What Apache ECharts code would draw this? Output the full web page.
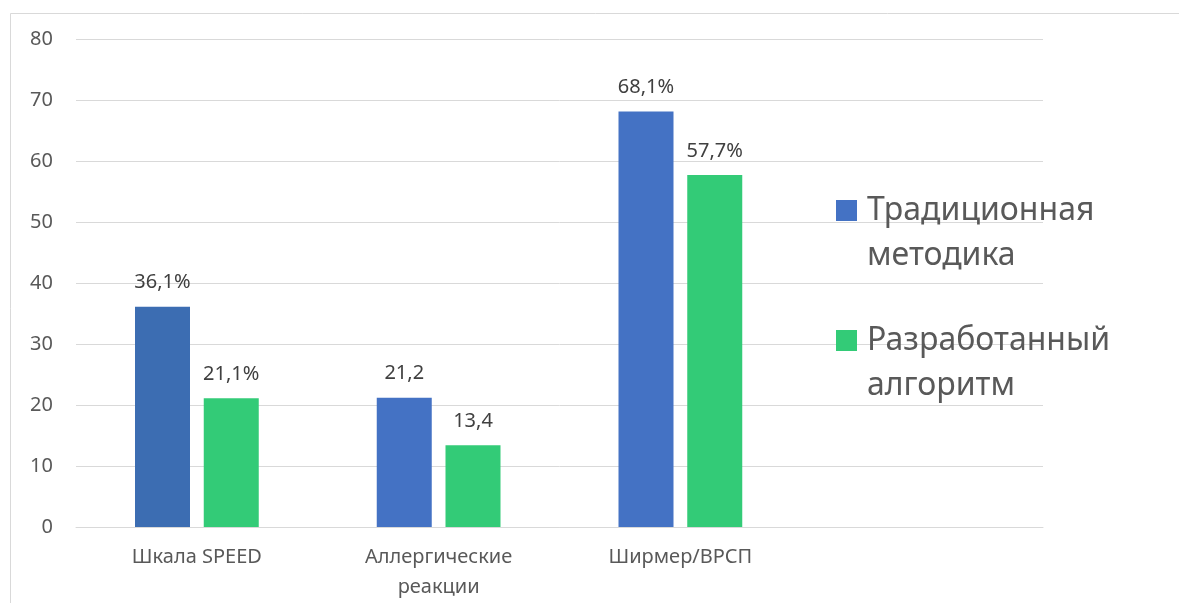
<!DOCTYPE html>
<html>
<head>
<meta charset="utf-8">
<script src="https://cdn.jsdelivr.net/npm/echarts@6/dist/echarts.min.js"></script>
<style>
html,body{margin:0;padding:0;background:#fff;}
#chart{width:1179px;height:603px;}
</style>
</head>
<body>
<div id="chart"></div>
<script>
var categories = ['Шкала SPEED', 'Аллергические\nреакции', 'Ширмер/ВРСП', ''];
var seriesNames = ['Традиционная методика', 'Разработанный алгоритм'];
var traditional = [36.1, 21.2, 68.1, '-'];
var developed = [21.1, 13.4, 57.7, '-'];
var traditionalLabels = ['36,1%', '21,2', '68,1%', ''];
var developedLabels = ['21,1%', '13,4', '57,7%', ''];
var yTicks = [0, 10, 20, 30, 40, 50, 60, 70, 80];

var FONT = '"Noto Sans", "Open Sans", sans-serif';
var BLUE = '#4472c4';
var BLUE_FIRST = '#3c6db2';
var GREEN = '#33cb77';

var chart = echarts.init(document.getElementById('chart'), null, {renderer: 'canvas'});

var legendLines = {};
legendLines[seriesNames[0]] = 'Традиционная\nметодика';
legendLines[seriesNames[1]] = 'Разработанный\nалгоритм';

chart.setOption({
  backgroundColor: '#fff',
  animation: false,
  graphic: [{
    type: 'rect',
    shape: {x: 10.5, y: 13.5, width: 1300, height: 800},
    style: {fill: 'none', stroke: '#d9d9d9', lineWidth: 1},
    silent: true,
    z: -1
  }],
  grid: {left: 76, right: 136, top: 39, bottom: 76, containLabel: false},
  legend: {
    orient: 'vertical',
    left: 836,
    top: 143,
    padding: 0,
    itemWidth: 21,
    itemHeight: 21,
    itemGap: -5,
    icon: 'rect',
    data: seriesNames,
    formatter: function (name) { return '\n' + legendLines[name]; },
    textStyle: {
      fontFamily: FONT,
      fontSize: 32,
      color: '#595959',
      lineHeight: 45,
      padding: [0, 0, 0, 5]
    }
  },
  xAxis: {
    type: 'category',
    data: categories,
    axisLine: {show: true, lineStyle: {color: '#d9d9d9', width: 1}},
    axisTick: {show: false},
    axisLabel: {
      fontFamily: FONT,
      fontSize: 20,
      color: '#595959',
      lineHeight: 30,
      margin: 15,
      interval: 0
    }
  },
  yAxis: {
    type: 'value',
    min: yTicks[0],
    max: yTicks[yTicks.length - 1],
    interval: 10,
    axisLine: {show: false},
    axisTick: {show: false},
    splitLine: {lineStyle: {color: '#d9d9d9', width: 1}},
    axisLabel: {
      fontFamily: FONT,
      fontSize: 20,
      color: '#595959',
      margin: 23
    }
  },
  series: [{
    name: seriesNames[0],
    type: 'bar',
    data: traditional.map(function (v, i) {
      return i === 0 ? {value: v, itemStyle: {color: BLUE_FIRST}} : v;
    }),
    itemStyle: {color: BLUE},
    barWidth: 55,
    barGap: '25%',
    label: {
      show: true,
      position: 'top',
      distance: 14,
      fontFamily: FONT,
      fontSize: 20,
      color: '#404040',
      formatter: function (p) { return traditionalLabels[p.dataIndex]; }
    }
  }, {
    name: seriesNames[1],
    type: 'bar',
    data: developed,
    itemStyle: {color: GREEN},
    barWidth: 55,
    barGap: '25%',
    label: {
      show: true,
      position: 'top',
      distance: 14,
      fontFamily: FONT,
      fontSize: 20,
      color: '#404040',
      formatter: function (p) { return developedLabels[p.dataIndex]; }
    }
  }]
});
</script>
</body>
</html>
